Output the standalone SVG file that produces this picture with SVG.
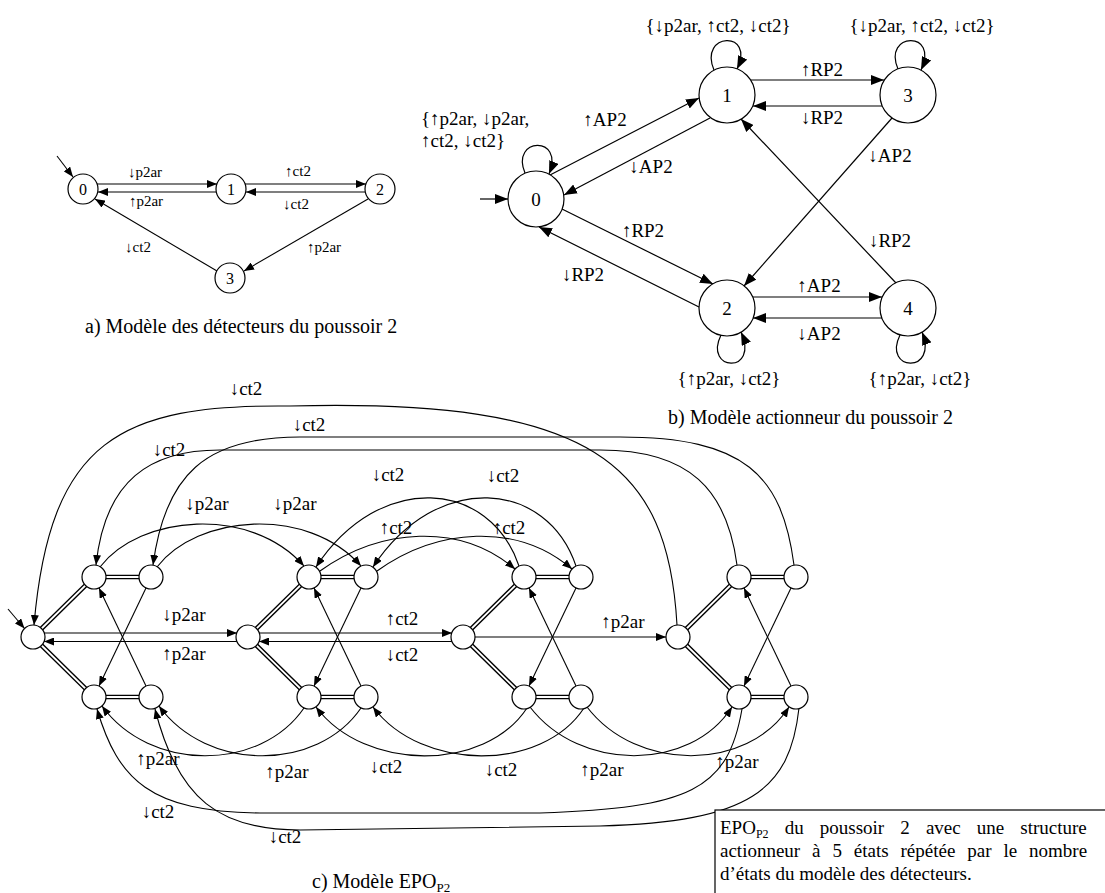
<svg xmlns="http://www.w3.org/2000/svg" width="1105" height="893" viewBox="0 0 1105 893">
<defs>
<marker id="ah" markerUnits="userSpaceOnUse" markerWidth="11" markerHeight="8" refX="10" refY="4" orient="auto"><path d="M0,0 L10,4 L0,8 z" fill="#000"/></marker>
<marker id="ahb" markerUnits="userSpaceOnUse" markerWidth="14" markerHeight="10" refX="13" refY="5" orient="auto"><path d="M0,0 L13,5 L0,10 z" fill="#000"/></marker>
<style>
.n{fill:#fff;stroke:#000;stroke-width:1.2}
.e{fill:none;stroke:#000;stroke-width:1.1}
.ea{fill:none;stroke:#000;stroke-width:1.1;marker-end:url(#ah)}
.eb{fill:none;stroke:#000;stroke-width:1.2;marker-end:url(#ahb)}
.dbo{fill:none;stroke:#000;stroke-width:4.6}
.dbi{fill:none;stroke:#fff;stroke-width:1.8}
text{font-family:"Liberation Serif","DejaVu Serif Condensed","DejaVu Serif",serif;fill:#000}
.la{font-size:15px;text-anchor:middle}
.lb{font-size:19px;text-anchor:middle}
.lc{font-size:19px;text-anchor:middle}
.cap{font-size:20px}
.na{font-size:16px;text-anchor:middle}
.nb{font-size:19px;text-anchor:middle}
.bx{font-size:19px}
</style>
</defs>
<rect width="1105" height="893" fill="#fff"/>

<!-- ===== a) detector model ===== -->
<g id="conn-a">
<path class="ea" d="M97 184 L217 184"/>
<path class="ea" d="M216 192 L98 192"/>
<path class="ea" d="M245 184 L366 184"/>
<path class="ea" d="M365 192 L246 192"/>
<path class="ea" d="M368 199 L244 271"/>
<path class="ea" d="M217 271 L95 199"/>
<path class="ea" d="M57 156 L73 177"/>
<text class="la" x="145" y="177">↓p2ar</text>
<text class="la" x="146" y="206">↑p2ar</text>
<text class="la" x="298" y="176">↑ct2</text>
<text class="la" x="296" y="209">↓ct2</text>
<text class="la" x="324" y="252">↑p2ar</text>
<text class="la" x="138" y="252">↓ct2</text>
</g>
<g id="a0"><circle class="n" cx="83" cy="189" r="15"/><text class="na" x="83" y="195">0</text></g>
<g id="a1"><circle class="n" cx="231" cy="189" r="15"/><text class="na" x="231" y="195">1</text></g>
<g id="a2"><circle class="n" cx="380" cy="189" r="15"/><text class="na" x="380" y="195">2</text></g>
<g id="a3"><circle class="n" cx="230" cy="278" r="15"/><text class="na" x="230" y="284">3</text></g>
<text class="cap" x="85" y="333">a) Modèle des détecteurs du poussoir 2</text>

<!-- ===== b) actuator model ===== -->
<g id="conn-b">
<path class="eb" d="M550 175 L699 98"/>
<path class="eb" d="M710 118 L564 195"/>
<path class="eb" d="M751 80 L884 80"/>
<path class="eb" d="M882 106 L753 106"/>
<path class="eb" d="M892 118 L744 286"/>
<path class="eb" d="M896 283 L741 119"/>
<path class="eb" d="M562 209 L713 284"/>
<path class="eb" d="M699 307 L539 227"/>
<path class="eb" d="M753 297 L882 297"/>
<path class="eb" d="M882 318 L753 318"/>
<path class="eb" d="M480 199 L508 199"/>
<path class="eb" d="M525 173 C510 137 565 135 549 174"/>
<path class="eb" d="M714 70 C698 32 756 30 737 69"/>
<path class="eb" d="M898 69 C882 32 940 30 921 70"/>
<path class="eb" d="M721 335 C703 372 760 374 741 332"/>
<path class="eb" d="M900 335 C882 372 939 374 922 332"/>
<text class="lb" x="822" y="76">↑RP2</text>
<text class="lb" x="822" y="124">↓RP2</text>
<text class="lb" x="605" y="126">↑AP2</text>
<text class="lb" x="651" y="173">↓AP2</text>
<text class="lb" x="890" y="162">↓AP2</text>
<text class="lb" x="890" y="247">↓RP2</text>
<text class="lb" x="643" y="237">↑RP2</text>
<text class="lb" x="583" y="281">↓RP2</text>
<text class="lb" x="819" y="292">↑AP2</text>
<text class="lb" x="819" y="340">↓AP2</text>
<text class="lb" x="421" y="125" style="text-anchor:start">{↑p2ar, ↓p2ar,</text>
<text class="lb" x="421" y="147" style="text-anchor:start">↑ct2, ↓ct2}</text>
<text class="lb" x="718" y="32">{↓p2ar, ↑ct2, ↓ct2}</text>
<text class="lb" x="922" y="32">{↓p2ar, ↑ct2, ↓ct2}</text>
<text class="lb" x="729" y="385">{↑p2ar, ↓ct2}</text>
<text class="lb" x="920" y="385">{↑p2ar, ↓ct2}</text>
</g>
<g id="b0"><circle class="n" cx="536" cy="199" r="28"/><text class="nb" x="536" y="206">0</text></g>
<g id="b1"><circle class="n" cx="727" cy="95" r="28"/><text class="nb" x="727" y="102">1</text></g>
<g id="b2"><circle class="n" cx="727" cy="308" r="28"/><text class="nb" x="727" y="315">2</text></g>
<g id="b3"><circle class="n" cx="908" cy="95" r="28"/><text class="nb" x="908" y="102">3</text></g>
<g id="b4"><circle class="n" cx="908" cy="308" r="28"/><text class="nb" x="908" y="315">4</text></g>
<text class="cap" x="668" y="424">b) Modèle actionneur du poussoir 2</text>

<!-- ===== c) EPO model ===== -->
<g id="conn-c">
<path class="dbo" d="M33 637 L94 577 L151 577 M33 637 L94 697 L151 697 M248 637 L309 577 L366 577 M248 637 L309 697 L366 697 M463 637 L524 577 L581 577 M463 637 L524 697 L581 697 M678 637 L739 577 L796 577 M678 637 L739 697 L796 697"/>
<path class="dbi" d="M33 637 L94 577 L151 577 M33 637 L94 697 L151 697 M248 637 L309 577 L366 577 M248 637 L309 697 L366 697 M463 637 L524 577 L581 577 M463 637 L524 697 L581 697 M678 637 L739 577 L796 577 M678 637 L739 697 L796 697"/>
<path class="ea" d="M146 588 L99 686"/><path class="ea" d="M146 686 L99 588"/>
<path class="ea" d="M361 588 L314 686"/><path class="ea" d="M361 686 L314 588"/>
<path class="ea" d="M576 588 L529 686"/><path class="ea" d="M576 686 L529 588"/>
<path class="ea" d="M791 588 L744 686"/><path class="ea" d="M791 686 L744 588"/>
<path class="ea" d="M44 633 L237 633"/>
<path class="ea" d="M237 641.5 L44 641.5"/>
<path class="ea" d="M259 633 L452 633"/>
<path class="ea" d="M452 641.5 L259 641.5"/>
<path class="ea" d="M475 637 L666 637"/>
<path class="ea" d="M8 609 L24.5 628.5"/>
<path class="ea" d="M677 625 C668 465 595 398 290 406 C120 404 50 440 34 625"/>
<path class="ea" d="M794 565 C782 475 745 437 620 437 L300 437 C205 437 165 475 153 565"/>
<path class="ea" d="M737 565 C727 490 690 450 600 450 L220 450 C150 450 105 480 96 565"/>
<path class="ea" d="M100 567 C140 515 250 505 304 566"/>
<path class="ea" d="M157 567 C197 515 307 505 361 566"/>
<path class="ea" d="M519 566 C490 480 380 470 316 567"/>
<path class="ea" d="M576 566 C547 480 437 470 373 567"/>
<path class="ea" d="M320 571 C380 528 460 522 515 569"/>
<path class="ea" d="M377 571 C437 528 517 522 572 569"/>
<path class="ea" d="M304 708 C260 772 150 772 102 706"/>
<path class="ea" d="M361 708 C317 772 207 772 159 706"/>
<path class="ea" d="M527 708 C485 772 365 772 316 707"/>
<path class="ea" d="M584 708 C542 772 422 772 373 707"/>
<path class="ea" d="M530 707 C580 772 690 772 732 707"/>
<path class="ea" d="M587 707 C637 772 747 772 789 707"/>
<path class="ea" d="M742 709 C728 790 690 808 540 813 L260 813 C150 812 118 780 97 709"/>
<path class="ea" d="M799 708 C790 790 750 822 600 826 L300 830 C220 830 178 800 155 709"/>
<text class="lc" x="246" y="395">↓ct2</text>
<text class="lc" x="309" y="431">↓ct2</text>
<text class="lc" x="169" y="456">↓ct2</text>
<text class="lc" x="207" y="510">↓p2ar</text>
<text class="lc" x="295" y="510">↓p2ar</text>
<text class="lc" x="388" y="481">↓ct2</text>
<text class="lc" x="503" y="482">↓ct2</text>
<text class="lc" x="396" y="534">↑ct2</text>
<text class="lc" x="509" y="534">↑ct2</text>
<text class="lc" x="184" y="621">↓p2ar</text>
<text class="lc" x="184" y="660">↑p2ar</text>
<text class="lc" x="402" y="625">↑ct2</text>
<text class="lc" x="402" y="661">↓ct2</text>
<text class="lc" x="623" y="628">↑p2ar</text>
<text class="lc" x="158" y="765">↑p2ar</text>
<text class="lc" x="287" y="778">↑p2ar</text>
<text class="lc" x="386" y="773">↓ct2</text>
<text class="lc" x="501" y="776">↓ct2</text>
<text class="lc" x="602" y="776">↑p2ar</text>
<text class="lc" x="737" y="768">↑p2ar</text>
<text class="lc" x="158" y="818">↓ct2</text>
<text class="lc" x="285" y="843">↓ct2</text>
</g>
<g id="c0-0"><circle class="n" cx="33" cy="637" r="12"/></g>
<g id="c0-1"><circle class="n" cx="94" cy="577" r="12"/></g>
<g id="c0-3"><circle class="n" cx="151" cy="577" r="12"/></g>
<g id="c0-2"><circle class="n" cx="94" cy="697" r="12"/></g>
<g id="c0-4"><circle class="n" cx="151" cy="697" r="12"/></g>
<g id="c1-0"><circle class="n" cx="248" cy="637" r="12"/></g>
<g id="c1-1"><circle class="n" cx="309" cy="577" r="12"/></g>
<g id="c1-3"><circle class="n" cx="366" cy="577" r="12"/></g>
<g id="c1-2"><circle class="n" cx="309" cy="697" r="12"/></g>
<g id="c1-4"><circle class="n" cx="366" cy="697" r="12"/></g>
<g id="c2-0"><circle class="n" cx="463" cy="637" r="12"/></g>
<g id="c2-1"><circle class="n" cx="524" cy="577" r="12"/></g>
<g id="c2-3"><circle class="n" cx="581" cy="577" r="12"/></g>
<g id="c2-2"><circle class="n" cx="524" cy="697" r="12"/></g>
<g id="c2-4"><circle class="n" cx="581" cy="697" r="12"/></g>
<g id="c3-0"><circle class="n" cx="678" cy="637" r="12"/></g>
<g id="c3-1"><circle class="n" cx="739" cy="577" r="12"/></g>
<g id="c3-3"><circle class="n" cx="796" cy="577" r="12"/></g>
<g id="c3-2"><circle class="n" cx="739" cy="697" r="12"/></g>
<g id="c3-4"><circle class="n" cx="796" cy="697" r="12"/></g>
<text class="cap" x="312" y="888">c) Modèle EPO<tspan font-size="13" dy="4">P2</tspan></text>

<g id="note">
<rect x="715" y="810" width="400" height="100" fill="#fff" stroke="#000" stroke-width="1.2"/>
<text class="bx" y="834"><tspan x="720">EPO</tspan><tspan font-size="12" dy="4">P2</tspan><tspan x="784.7" dy="-4">du</tspan><tspan x="819.8">poussoir</tspan><tspan x="900.3">2</tspan><tspan x="925.9">avec</tspan><tspan x="976.8">une</tspan><tspan x="1020.3">structure</tspan></text>
<text class="bx" y="857"><tspan x="720">actionneur</tspan><tspan x="812.1">à</tspan><tspan x="832.4">5</tspan><tspan x="853.8">états</tspan><tspan x="900.5">répétée</tspan><tspan x="967.3">par</tspan><tspan x="1003.5">le</tspan><tspan x="1029.1">nombre</tspan></text>
<text class="bx" x="720" y="880">d’états du modèle des détecteurs.</text>
</g>
</svg>
